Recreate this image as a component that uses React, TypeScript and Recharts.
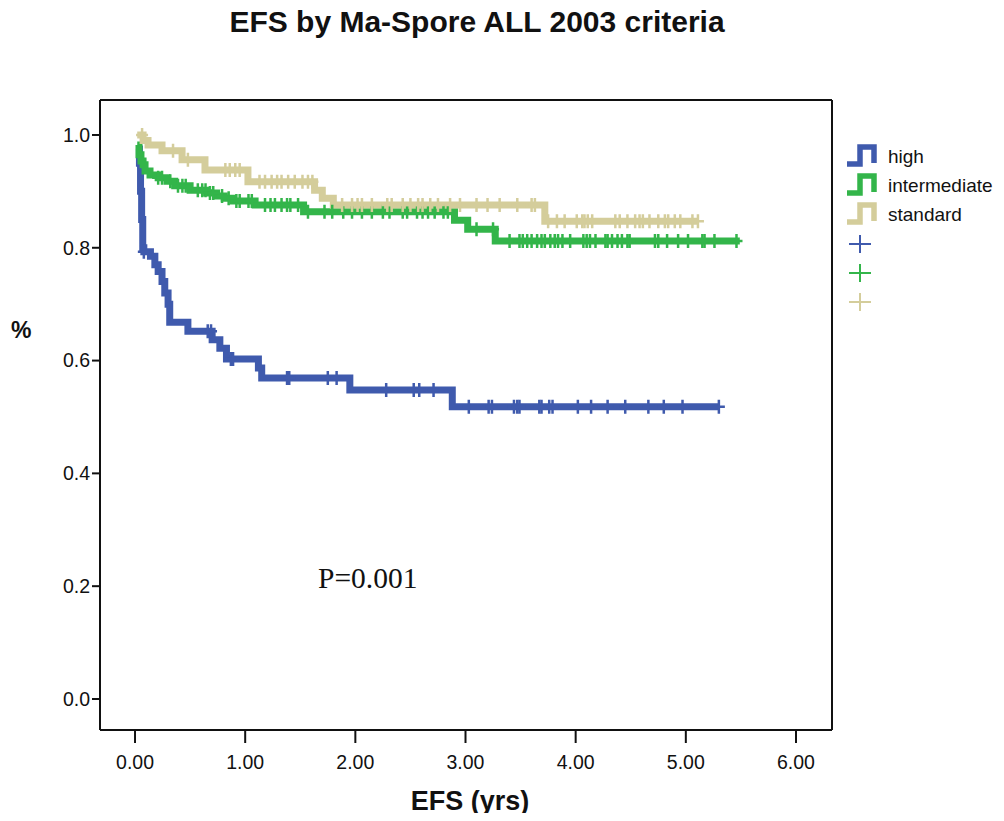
import React from "react";
import {
  ComposedChart,
  Line,
  Scatter,
  XAxis,
  YAxis,
  ReferenceLine,
} from "recharts";

// step points (time in yrs, cumulative EFS)
const highT = [0.02, 0.04, 0.05, 0.06, 0.07, 0.08, 0.14, 0.18, 0.21, 0.245, 0.27, 0.3, 0.315, 0.48, 0.7, 0.77, 0.83, 1.12, 1.15, 1.95, 2.88, 5.3];
const highS = [0.975, 0.95, 0.9, 0.85, 0.8, 0.793, 0.785, 0.77, 0.758, 0.74, 0.72, 0.7, 0.668, 0.652, 0.637, 0.622, 0.603, 0.587, 0.569, 0.548, 0.518, 0.518];

const interT = [0.02, 0.036, 0.054, 0.073, 0.091, 0.136, 0.21, 0.29, 0.36, 0.5, 0.65, 0.74, 0.81, 0.89, 1.0, 1.09, 1.53, 2.9, 3.02, 3.27, 5.49];
const interS = [0.982, 0.965, 0.954, 0.947, 0.936, 0.929, 0.924, 0.918, 0.91, 0.902, 0.897, 0.892, 0.888, 0.883, 0.883, 0.876, 0.864, 0.849, 0.833, 0.812, 0.812];

const stdT = [0.02, 0.073, 0.118, 0.245, 0.427, 0.635, 1.025, 1.63, 1.7, 1.8, 3.72, 5.11];
const stdS = [1.0, 0.99, 0.982, 0.972, 0.956, 0.938, 0.917, 0.902, 0.888, 0.876, 0.847, 0.847];

// censored cases
const highCens = [0.08, 0.66, 0.69, 0.87, 0.89, 1.38, 1.4, 1.75, 1.83, 2.28, 2.53, 2.58, 2.71, 3.03, 3.21, 3.24, 3.44, 3.47, 3.49, 3.67, 3.69, 3.76, 3.79, 4.02, 4.14, 4.29, 4.45, 4.66, 4.8, 4.97, 5.3];
const interCens = [0.21, 0.245, 0.32, 0.39, 0.43, 0.46, 0.57, 0.61, 0.64, 0.68, 0.71, 0.79, 0.85, 0.92, 0.95, 1.03, 1.06, 1.18, 1.23, 1.27, 1.33, 1.38, 1.41, 1.48, 1.57, 1.72, 1.79, 1.89, 1.97, 2.06, 2.15, 2.25, 2.31, 2.43, 2.47, 2.56, 2.61, 2.66, 2.72, 2.8, 2.84, 3.1, 3.25, 3.4, 3.49, 3.52, 3.56, 3.6, 3.65, 3.69, 3.72, 3.77, 3.81, 3.84, 3.88, 3.95, 4.07, 4.1, 4.13, 4.18, 4.27, 4.29, 4.33, 4.38, 4.42, 4.47, 4.49, 4.72, 4.75, 4.83, 4.93, 5.02, 5.15, 5.17, 5.26, 5.46];
const stdCens = [0.064, 0.345, 0.48, 0.82, 0.86, 0.91, 0.95, 1.13, 1.18, 1.24, 1.29, 1.33, 1.39, 1.45, 1.52, 1.57, 1.61, 1.88, 1.97, 2.02, 2.06, 2.15, 2.29, 2.33, 2.43, 2.5, 2.57, 2.61, 2.68, 2.75, 2.86, 2.95, 3.1, 3.2, 3.31, 3.47, 3.6, 3.63, 3.75, 3.83, 3.9, 4.01, 4.06, 4.08, 4.11, 4.15, 4.36, 4.4, 4.47, 4.54, 4.58, 4.61, 4.67, 4.75, 4.81, 4.84, 4.9, 4.95, 5.06, 5.11];

const xTicks = [0, 1, 2, 3, 4, 5, 6];
const yTicks = [0, 0.2, 0.4, 0.6, 0.8, 1.0];
const X_MIN = -0.318;
const X_MAX = 6.327;
const Y_MIN = -0.055;
const Y_MAX = 1.062;

const BLUE = "#3f5aad";
const GREEN = "#33b54a";
const TAN = "#d4cd9b";

const FONT = "Arial, 'Liberation Sans', sans-serif";

const toSeries = (ts: number[], ss: number[]) => ts.map((t, i) => ({ t, s: ss[i] }));

const stepAt = (ts: number[], ss: number[], t: number) => {
  let v = ss[0];
  for (let i = 0; i < ts.length; i++) if (ts[i] <= t + 1e-9) v = ss[i];
  return v;
};

const censPoints = (cens: number[], ts: number[], ss: number[]) =>
  cens.map((t) => ({ t, s: stepAt(ts, ss, t) }));

const groups = [
  { name: "high", color: BLUE, line: toSeries(highT, highS), cens: censPoints(highCens, highT, highS) },
  { name: "intermediate", color: GREEN, line: toSeries(interT, interS), cens: censPoints(interCens, interT, interS) },
  { name: "standard", color: TAN, line: toSeries(stdT, stdS), cens: censPoints(stdCens, stdT, stdS) },
];

const plus = (color: string) => (props: any) => {
  const { cx, cy } = props;
  if (cx == null || cy == null) return <g />;
  return (
    <path
      d={`M${cx - 6},${cy} H${cx + 6} M${cx},${cy - 7} V${cy + 7}`}
      stroke={color}
      strokeWidth={2.5}
      fill="none"
    />
  );
};

const XTick = (props: any) => {
  const { x, y, payload } = props;
  return (
    <text x={x} y={y + 24} textAnchor="middle" fontSize={19.5} fontFamily={FONT} fill="#111">
      {Number(payload.value).toFixed(2)}
    </text>
  );
};

function LegendBox() {
  return (
    <svg width={170} height={190} style={{ position: "absolute", left: 823, top: 123 }}>
      {groups.map((g, i) => {
        const y = 25 + i * 29;
        return (
          <g key={g.name}>
            <path
              d={`M 16 ${y + 8} H 29 V ${y - 9} H 43 V ${y + 7}`}
              stroke={g.color}
              strokeWidth={5.5}
              fill="none"
            />
            <text x={57} y={y + 7} fontSize={19} fontFamily={FONT} fill="#111">
              {g.name}
            </text>
          </g>
        );
      })}
      {groups.map((g, i) => {
        const y = 113 + i * 29;
        return (
          <path
            key={g.name + "c"}
            d={`M 18 ${y} H 40 M 29 ${y - 9} V ${y + 9}`}
            stroke={g.color}
            strokeWidth={2}
            fill="none"
          />
        );
      })}
    </svg>
  );
}

export default function App() {
  return (
    <div style={{ position: "relative", width: 988, height: 805, background: "#fff", fontFamily: FONT }}>
      <div
        style={{
          position: "absolute",
          left: 0,
          width: 938,
          top: -3,
          textAlign: "center",
          fontWeight: "bold",
          fontSize: 30,
          color: "#111",
        }}
      >
        EFS by Ma-Spore ALL 2003 criteria
      </div>
      <div style={{ position: "absolute", left: 3, top: 309, fontWeight: "bold", fontSize: 23, color: "#111" }}>%</div>
      <div
        style={{
          position: "absolute",
          left: 310,
          top: 554,
          fontFamily: "'Liberation Serif', 'Times New Roman', serif",
          fontSize: 29.5,
          color: "#111",
        }}
      >
        P=0.001
      </div>
      <ComposedChart
        width={988}
        height={805}
        margin={{ top: 92, right: 164, bottom: 23, left: 32 }}
      >
        <XAxis
          dataKey="t"
          type="number"
          domain={[X_MIN, X_MAX]}
          ticks={xTicks}
          allowDataOverflow
          height={60}
          tickSize={13}
          tick={<XTick />}
          axisLine={{ stroke: "#111", strokeWidth: 2 }}
          tickLine={{ stroke: "#111", strokeWidth: 2 }}
        />
        <YAxis
          dataKey="s"
          type="number"
          domain={[Y_MIN, Y_MAX]}
          ticks={yTicks}
          allowDataOverflow
          width={60}
          tickSize={8}
          tickFormatter={(v: number) => v.toFixed(1)}
          tick={{ fontSize: 19.5, fill: "#111", fontFamily: FONT }}
          axisLine={{ stroke: "#111", strokeWidth: 2 }}
          tickLine={{ stroke: "#111", strokeWidth: 2 }}
        />
        <ReferenceLine y={Y_MAX} stroke="#111" strokeWidth={2} ifOverflow="visible" />
        <ReferenceLine x={X_MAX} stroke="#111" strokeWidth={2} ifOverflow="visible" />
        {groups.map((g) => (
          <Line
            key={g.name}
            data={g.line}
            dataKey="s"
            type="stepAfter"
            stroke={g.color}
            strokeWidth={7}
            dot={false}
            activeDot={false}
            isAnimationActive={false}
          />
        ))}
        {groups.map((g) => (
          <Scatter
            key={g.name + "-c"}
            data={g.cens}
            dataKey="s"
            shape={plus(g.color)}
            isAnimationActive={false}
          />
        ))}
      </ComposedChart>
      <div
        style={{
          position: "absolute",
          left: 312,
          width: 300,
          top: 778,
          textAlign: "center",
          fontWeight: "bold",
          fontSize: 27,
          color: "#111",
        }}
      >
        EFS (yrs)
      </div>
      <LegendBox />
    </div>
  );
}
